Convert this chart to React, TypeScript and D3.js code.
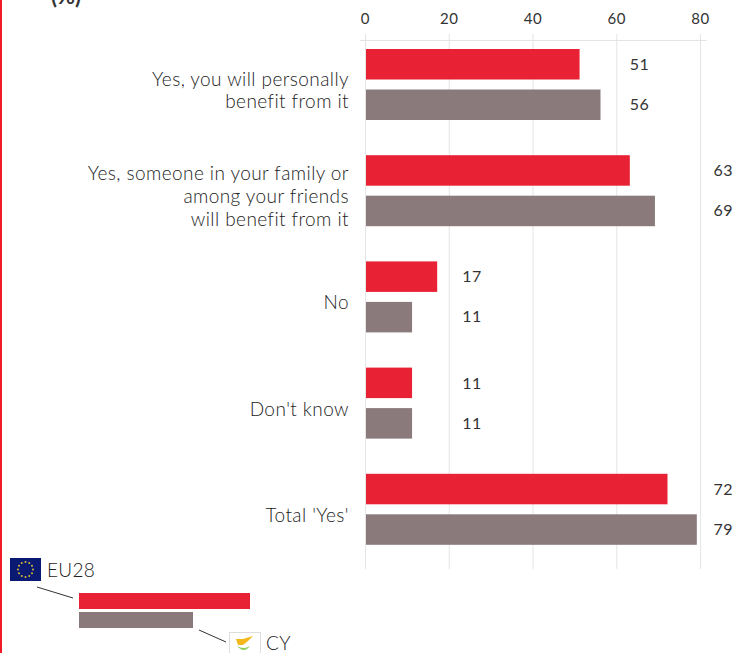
import React from "react";
import * as d3 from "d3";

const categories = [
  ["Yes, you will personally", "benefit from it"],
  ["Yes, someone in your family or", "among your friends", "will benefit from it"],
  ["No"],
  ["Don't know"],
  ["Total 'Yes'"],
];
const eu28 = [51, 63, 17, 11, 72];
const cy = [56, 69, 11, 11, 79];
const ticks = [0, 20, 40, 60, 80];
const RED = "#e82134";
const GREY = "#8a7a7c";
const TEXT = "#333333";
const DARK = "#1c1c1c";
const FONT = "Lato, sans-serif";

export default function App() {
  const x = d3.scaleLinear().domain([0, 80]).range([365.5, 700.5]);
  const band = d3.scaleBand<number>().domain(d3.range(5)).range([32.5, 563.5]);
  const stars = d3.range(12).map((i) => (i * Math.PI) / 6);
  return (
    <svg width={733} height={653} style={{ position: "absolute", left: 0, top: 0, background: "#fff" }} fontFamily={FONT}>
      <rect x={0} y={0} width={2} height={653} fill="#f01c24" />
      <text x={51} y={4} fontSize={22} fontWeight={700} fill={TEXT}>(%)</text>
      {ticks.map((t) => (
        <g key={t}>
          <line x1={x(t)} x2={x(t)} y1={34} y2={569} stroke="#e4e4e4" strokeWidth={1} />
          <text x={x(t)} y={24} textAnchor="middle" fontSize={15} fill={TEXT} letterSpacing={0.6}>{t}</text>
        </g>
      ))}
      <line x1={360} x2={707} y1={40.5} y2={40.5} stroke="#e4e4e4" />
      {categories.map((lines, i) => {
        const top = band(i)!;
        const lh = 22.8;
        const y0 = top + 53 - ((lines.length - 1) * lh) / 2 + 11.5;
        const m = Math.max(eu28[i], cy[i]);
        const lx = x(ticks[d3.bisectLeft(ticks, m)]) + 13;
        return (
          <g key={i}>
            <rect x={x(0) + 0.5} y={top + 16.5} width={x(eu28[i]) - x(0)} height={30.5} fill={RED} />
            <rect x={x(0) + 0.5} y={top + 57} width={x(cy[i]) - x(0)} height={30.5} fill={GREY} />
            <text x={lx} y={top + 37.5} fontSize={16} fill={TEXT} letterSpacing={0.4}>{eu28[i]}</text>
            <text x={lx} y={top + 77.5} fontSize={16} fill={TEXT} letterSpacing={0.4}>{cy[i]}</text>
            {lines.map((l, j) => (
              <text key={j} x={349} y={y0 + j * lh} textAnchor="end" fontSize={19} fill={DARK} fontWeight={300} letterSpacing={0.42}>{l}</text>
            ))}
          </g>
        );
      })}
      <rect x={10} y={558} width={31} height={23} fill="#0a1a72" />
      {stars.map((a, i) => (
        <circle key={i} cx={25.5 + 7.5 * Math.sin(a)} cy={569.5 - 7.5 * Math.cos(a)} r={1} fill="#d8b93a" />
      ))}
      <text x={47} y={577} fontSize={19} fill={DARK} fontWeight={300} letterSpacing={0.3}>EU28</text>
      <line x1={37} y1={587} x2={73} y2={598} stroke="#333" strokeWidth={1} />
      <rect x={79} y={593} width={171} height={16} fill={RED} />
      <rect x={79} y={612} width={114} height={16} fill={GREY} />
      <line x1={199} y1={630} x2={226} y2={642} stroke="#333" strokeWidth={1} />
      <rect x={229.5} y={632.5} width={31} height={23} fill="#fff" stroke="#ddd" />
      <path d="M236 639 L243 639 L253 636 L248 641 L243 645 L238 645 Z" fill="#f5b81c" />
      <path d="M237 646 Q244 654 250 646 Q244 650 237 646 Z" fill="#8ccf5a" />
      <text x={266} y={650} fontSize={19} fill={DARK} fontWeight={300} letterSpacing={0.3}>CY</text>
    </svg>
  );
}
